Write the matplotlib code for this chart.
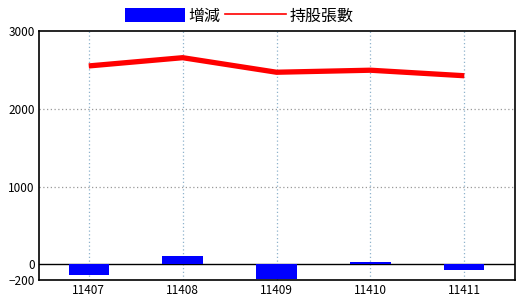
import numpy as np
import matplotlib.pyplot as plt
from matplotlib.patches import Patch
from matplotlib.lines import Line2D

plt.rcParams['font.family'] = ['Noto Sans CJK TC', 'DejaVu Sans']

months = ['11407', '11408', '11409', '11410', '11411']
change = [-140, 106, -187, 26, -71]
holdings = [2551, 2657, 2470, 2496, 2425]


def holding_chart():
    fig = plt.figure(figsize=(5.2, 3.0), dpi=100)
    ax = fig.add_axes([39 / 520, 20 / 300, 476 / 520, 249 / 300])

    x = np.arange(len(months))
    ax.bar(x, change, width=0.43, color='#0000ff', zorder=3)
    ax.plot(x, holdings, color='#ff0000', linewidth=3.8, zorder=4,
            solid_capstyle='butt')

    ax.axhline(0, color='black', linewidth=1.0, zorder=2)
    for xi in x:
        ax.axvline(xi, color='#8fb3cc', linestyle=(0, (1, 2)),
                   linewidth=0.9, zorder=1)
    for yv in [1000, 2000]:
        ax.axhline(yv, color='#999999', linestyle=(0, (1, 2)),
                   linewidth=0.9, zorder=1)

    ax.set_xlim(-0.53, 4.54)
    ax.set_ylim(-200, 3000)
    ax.set_xticks(x)
    ax.set_xticklabels(months)
    ax.set_yticks([-200, 0, 1000, 2000, 3000])
    ax.tick_params(length=0, labelsize=8.5, pad=3)
    for s in ax.spines.values():
        s.set_linewidth(1.2)
        s.set_color('black')

    handles = [Patch(facecolor='#0000ff', edgecolor='none'),
               Line2D([0], [0], color='#ff0000', linewidth=1.2)]
    fig.legend(handles, ['增減', '持股張數'], loc='center',
               bbox_to_anchor=(239 / 520, 1 - 16 / 300), ncol=2,
               frameon=False, fontsize=11.5, handlelength=3.8,
               handleheight=1.0, handletextpad=0.2, columnspacing=0.3,
               borderpad=0, borderaxespad=0)

    fig.savefig('out.png', dpi=100)


holding_chart()
